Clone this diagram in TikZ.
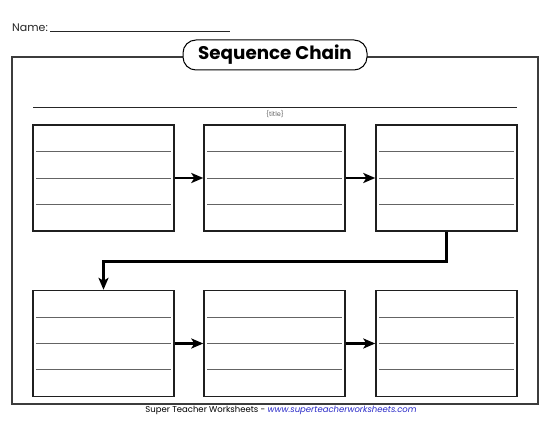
\documentclass[tikz,border=0pt]{standalone}
\usepackage{fontspec}
\setmainfont{Poppins}
\usetikzlibrary{arrows.meta,calc}
\definecolor{linkblue}{RGB}{40,40,200}
\definecolor{framegray}{RGB}{60,60,60}
\definecolor{rulegray}{RGB}{100,100,100}
\tikzset{
  seqbox/.style={draw=black!88, line width=1.4pt, minimum width=141pt, minimum height=106pt, inner sep=0pt},
  rulerline/.style={draw=rulegray, line width=0.9pt},
  flow/.style={line width=2.6pt, -{Stealth[length=12pt,width=10pt,inset=3pt]}},
  pill/.style={draw=black, line width=1pt, fill=white, rounded corners=13pt, minimum width=184pt, minimum height=30pt, inner sep=0pt, font=\fontsize{18.3}{21}\selectfont\bfseries},
}
\begin{document}
\begin{tikzpicture}[x=1pt,y=-1pt]
\useasboundingbox (0,0) rectangle (550,425);
\fill[white] (0,0) rectangle (550,425);
% name line
\node[anchor=base west, inner sep=0pt, font=\fontsize{11}{13}\selectfont, text=black!85] (name) at (12,32) {Name:};
\draw[line width=1pt, black!85] (50,32) -- (230,32);
% outer frame
\draw[framegray, line width=1.2pt] (12,57) rectangle (538,404);
\node[pill] (title) at (275,55) {Sequence Chain};
% title rule
\draw[black!85, line width=1.3pt] (33,107.5) -- (517,107.5);
\node[font=\fontsize{6.5}{7}\selectfont, text=black!60, inner sep=0pt] (tlabel) at (275,114) {\{title\}};
% boxes
\node[seqbox] (b1) at (103.5,178) {};
\node[seqbox] (b2) at (274.5,178) {};
\node[seqbox] (b3) at (446.5,178) {};
\node[seqbox] (b4) at (103.5,343.5) {};
\node[seqbox] (b5) at (274.5,343.5) {};
\node[seqbox] (b6) at (446.5,343.5) {};
\foreach \n in {b1,b2,b3,b4,b5,b6}{
  \foreach \f in {0.255,0.5,0.745}{
    \draw[rulerline] ($(\n.north west)!\f!(\n.south west)+(4,0)$) -- ($(\n.north east)!\f!(\n.south east)+(-4,0)$);
  }
}
% arrows
\draw[flow] (b1.east) -- (b2.west);
\draw[flow] (b2.east) -- (b3.west);
\draw[flow] (b4.east) -- (b5.west);
\draw[flow] (b5.east) -- (b6.west);
\draw[flow] (b3.south) -- ++(0,30) -| (b4.north);
% footer
\node[anchor=base, inner sep=0pt, font=\fontsize{8.5}{10}\selectfont] (footer) at (281,413) {Super Teacher Worksheets - \textcolor{linkblue}{\itshape www.superteacherworksheets.com}};
\end{tikzpicture}
\end{document}
